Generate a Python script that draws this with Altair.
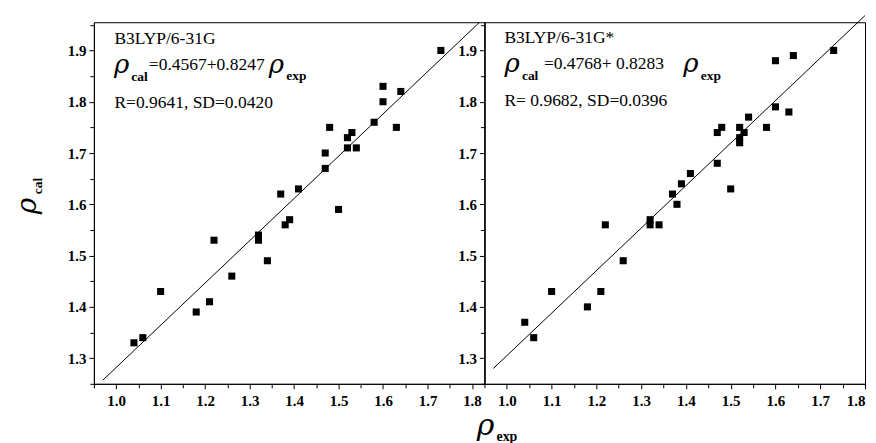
import altair as alt
import pandas as pd

# ---- data ----
# B3LYP/6-31G panel
x_631g = [1.73, 1.60, 1.60, 1.64, 1.58, 1.63, 1.48, 1.52, 1.53, 1.52, 1.54, 1.47, 1.47, 1.37,
          1.41, 1.50, 1.39, 1.38, 1.32, 1.32, 1.22, 1.34, 1.26, 1.10, 1.21, 1.18, 1.06, 1.04]
y_631g = [1.90, 1.83, 1.80, 1.82, 1.76, 1.75, 1.75, 1.73, 1.74, 1.71, 1.71, 1.70, 1.67, 1.62,
          1.63, 1.59, 1.57, 1.56, 1.54, 1.53, 1.53, 1.49, 1.46, 1.43, 1.41, 1.39, 1.34, 1.33]
# B3LYP/6-31G* panel
x_631gs = [1.73, 1.60, 1.64, 1.60, 1.63, 1.58, 1.54, 1.52, 1.53, 1.52, 1.52, 1.48, 1.47, 1.47, 1.50,
           1.41, 1.39, 1.37, 1.38, 1.32, 1.32, 1.34, 1.22, 1.26, 1.10, 1.21, 1.18, 1.04, 1.06]
y_631gs = [1.90, 1.88, 1.89, 1.79, 1.78, 1.75, 1.77, 1.75, 1.74, 1.73, 1.72, 1.75, 1.74, 1.68, 1.63,
           1.66, 1.64, 1.62, 1.60, 1.57, 1.56, 1.56, 1.56, 1.49, 1.43, 1.43, 1.40, 1.37, 1.34]

# fitted lines (end points)
fit_x_631g = [0.97, 1.817]
fit_y_631g = [1.257, 1.955]
fit_x_631gs = [0.97, 1.80]
fit_y_631gs = [1.280, 1.968]

x_major = [1.0, 1.1, 1.2, 1.3, 1.4, 1.5, 1.6, 1.7, 1.8]
y_major = [1.3, 1.4, 1.5, 1.6, 1.7, 1.8, 1.9]
x_minor = [0.95, 1.05, 1.15, 1.25, 1.35, 1.45, 1.55, 1.65, 1.75]
y_minor = [1.25, 1.35, 1.45, 1.55, 1.65, 1.75, 1.85, 1.95]

Y_DOMAIN = [1.25, 1.955]
H = 362
SERIF = "Liberation Serif"
RHO_FONT = "DejaVu Serif"


def text_layer(s, x, y, size, weight="normal", style="normal", angle=0, align="left", font=SERIF):
    return alt.Chart(pd.DataFrame({"t": [s]})).mark_text(
        font=font, fontSize=size, fontWeight=weight, fontStyle=style,
        angle=angle, align=align, baseline="alphabetic", color="black"
    ).encode(x=alt.value(x), y=alt.value(y), text="t:N")


def panel(xs, ys, fx, fy, xdomain, width, texts, clip_line):
    pts = pd.DataFrame({"x": xs, "y": ys})
    line = pd.DataFrame({"x": fx, "y": fy})
    xscale = alt.Scale(domain=xdomain, nice=False, zero=False)
    yscale = alt.Scale(domain=Y_DOMAIN, nice=False, zero=False)
    major_axis_x = alt.Axis(values=x_major, orient="bottom", format=".1f", tickSize=5,
                            labelPadding=5, grid=False)
    major_axis_y = alt.Axis(values=y_major, orient="left", format=".1f", tickSize=5,
                            labelPadding=3, grid=False)
    minor_axis_x = alt.Axis(values=x_minor, orient="bottom", labels=False, tickSize=4,
                            domain=False, grid=False)
    minor_axis_y = alt.Axis(values=y_minor, orient="left", labels=False, tickSize=4,
                            domain=False, grid=False)
    points = alt.Chart(pts).mark_square(size=50, color="black", opacity=1).encode(
        x=alt.X("x:Q", scale=xscale, axis=major_axis_x, title=None),
        y=alt.Y("y:Q", scale=yscale, axis=major_axis_y, title=None),
    )
    fit = alt.Chart(line).mark_line(color="black", strokeWidth=1, clip=clip_line).encode(
        x=alt.X("x:Q", scale=xscale, axis=minor_axis_x, title=None),
        y=alt.Y("y:Q", scale=yscale, axis=minor_axis_y, title=None),
    )
    layers = [points, fit] + [text_layer(**t) for t in texts]
    return alt.layer(*layers).resolve_axis(x="independent", y="independent").properties(
        width=width, height=H
    )


left_texts = [
    dict(s="B3LYP/6-31G", x=20.5, y=22, size=17.5),
    dict(s="ρ", x=20, y=50.5, size=26, style="italic", font=RHO_FONT),
    dict(s="cal", x=37.5, y=58.5, size=13.5, weight="bold"),
    dict(s="=0.4567+0.8247", x=55, y=48, size=17.5),
    dict(s="ρ", x=175, y=51, size=26, style="italic", font=RHO_FONT),
    dict(s="exp", x=192.5, y=58, size=13.5, weight="bold"),
    dict(s="R=0.9641, SD=0.0420", x=20.5, y=86, size=17.5),
    # axis titles
    dict(s="ρ", x=-57.7, y=184, size=28, style="italic", angle=270, align="center", font=RHO_FONT),
    dict(s="cal", x=-51.5, y=164, size=13.5, weight="bold", angle=270, align="center"),
    dict(s="ρ", x=392, y=413, size=30, style="italic", align="center", font=RHO_FONT),
    dict(s="exp", x=403, y=419, size=14, weight="bold", align="left"),
]
right_texts = [
    dict(s="B3LYP/6-31G*", x=20, y=21, size=17.5),
    dict(s="ρ", x=20, y=49.5, size=26, style="italic", font=RHO_FONT),
    dict(s="cal", x=37.5, y=58, size=13.5, weight="bold"),
    dict(s="=0.4768+ 0.8283", x=59.5, y=47, size=17.5),
    dict(s="ρ", x=199, y=50, size=26, style="italic", font=RHO_FONT),
    dict(s="exp", x=216.5, y=58, size=13.5, weight="bold"),
    dict(s="R= 0.9682, SD=0.0396", x=20, y=84, size=17.5),
]

left = panel(x_631g, y_631g, fit_x_631g, fit_y_631g, [0.95, 1.828], 391, left_texts, True)
right = panel(x_631gs, y_631gs, fit_x_631gs, fit_y_631gs, [0.95, 1.80], 381, right_texts, False)

chart = alt.hconcat(left, right, spacing=0, bounds="flush").properties(
    padding={"left": 5, "top": 4, "right": 0, "bottom": 0}
).configure(background="white").configure_view(
    stroke="black", strokeWidth=1
).configure_axis(
    labelFont=SERIF, labelFontWeight="bold", labelFontSize=15, labelColor="black",
    domainColor="black", domainWidth=1, tickColor="black", tickWidth=1,
)

chart.save("out.html", embed_options={"renderer": "svg", "actions": False})
